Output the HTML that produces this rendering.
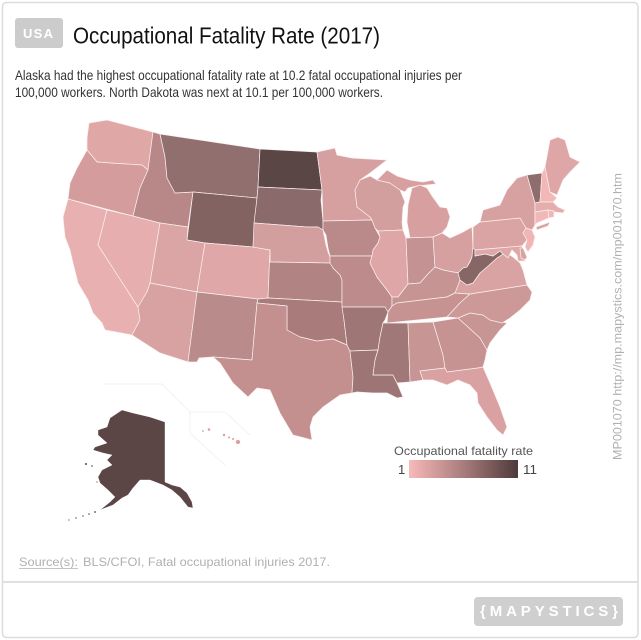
<!DOCTYPE html>
<html>
<head>
<meta charset="utf-8">
<style>
html,body{margin:0;padding:0;background:#fff;}
svg{display:block;}
text{font-family:"Liberation Sans",Arial,sans-serif;}
</style>
</head>
<body>
<svg width="641" height="640" viewBox="0 0 641 640" xmlns="http://www.w3.org/2000/svg">
<defs>
<linearGradient id="lg" x1="0" y1="0" x2="1" y2="0">
<stop offset="0" stop-color="#f8b9b9"/>
<stop offset="0.5" stop-color="#a97c7c"/>
<stop offset="1" stop-color="#4d3a3a"/>
</linearGradient>
</defs>
<rect x="0" y="0" width="641" height="640" fill="#fff"/>
<rect x="2.5" y="2.5" width="635.5" height="635" rx="4" fill="#fff" stroke="#dcdcdc" stroke-width="1.5"/>
<line x1="3" y1="582" x2="638" y2="582" stroke="#e0e0e0" stroke-width="2"/>

<!-- header -->
<rect x="15" y="18" width="48" height="30" rx="3" fill="#cccccc"/>
<text x="23" y="38" font-size="13" font-weight="bold" fill="#fff" textLength="30" lengthAdjust="spacing">USA</text>
<text x="73" y="43.5" font-size="23" fill="#111" textLength="307" lengthAdjust="spacingAndGlyphs">Occupational Fatality Rate (2017)</text>
<text x="15" y="80" font-size="14" fill="#333" textLength="447" lengthAdjust="spacingAndGlyphs">Alaska had the highest occupational fatality rate at 10.2 fatal occupational injuries per</text>
<text x="15" y="97" font-size="14" fill="#333" textLength="368" lengthAdjust="spacingAndGlyphs">100,000 workers. North Dakota was next at 10.1 per 100,000 workers.</text>

<!-- AK/HI frame lines -->
<g fill="none" stroke="#eeeeee" stroke-width="0.8">
<polyline points="103,384 162,384 190,412 225,412 250,435"/>
<polyline points="190,412 190,433 225,465"/>
</g>

<g stroke="#fbefef" stroke-width="0.7" stroke-linejoin="round">
<!-- WA -->
<polygon fill="#e0a7a7" points="89,123 107,120 153,132 148,170 142,165 110,163 97,162 87,150 87,138"/>
<!-- OR -->
<polygon fill="#d49c9c" points="87,150 97,162 110,163 142,165 148,170 140,188 133,216 68,199 70,183 77,168"/>
<!-- CA -->
<polygon fill="#e8b0b0" points="68,199 107,210 98,245 138,307 140,320 132,335 105,330 102,323 93,313 88,300 78,283 73,263 70,250 65,237 63,217"/>
<!-- NV -->
<polygon fill="#e6aeae" points="107,210 133,216 160,223 150,283 147,292 138,307 98,245"/>
<!-- ID -->
<polygon fill="#b88888" points="153,132 160,134 165,157 167,178 175,193 193,192 188,227 160,223 133,216 140,188 148,170"/>
<!-- MT -->
<polygon fill="#916f6f" points="160,134 260,149 258,187 257,198 193,192 175,193 167,178 165,157"/>
<!-- WY -->
<polygon fill="#836262" points="193,192 257,198 253,247 205,243 187,240"/>
<!-- UT -->
<polygon fill="#dca5a5" points="160,223 188,227 187,240 205,243 197,292 150,283"/>
<!-- CO -->
<polygon fill="#dfa7a7" points="205,243 253,247 270,250 268,298 258,299 197,292"/>
<!-- AZ -->
<polygon fill="#d9a2a2" points="150,283 197,292 188,362 160,353 132,335 140,320 138,307 147,292"/>
<!-- NM -->
<polygon fill="#ba8b8b" points="197,292 258,299 257,303 252,360 213,357 199,358 197,362 188,362"/>
<!-- ND -->
<polygon fill="#5b4646" points="260,149 317,152 322,190 258,187"/>
<!-- SD -->
<polygon fill="#8a6a6a" points="258,187 322,190 321,200 323,221 323,230 318,227 307,227 254,223 257,198"/>
<!-- NE -->
<polygon fill="#d39e9e" points="254,223 307,227 318,227 323,230 326,245 328,252 330,257 330,263 270,262 270,250 253,247"/>
<!-- KS -->
<polygon fill="#b18383" points="270,262 330,263 333,268 340,275 342,280 342,302 268,298 270,250"/>
<!-- OK -->
<polygon fill="#aa7b7b" points="258,299 268,298 342,302 344,320 347,345 333,339 317,341 300,337 287,330 287,306 257,303"/>
<!-- TX -->
<polygon fill="#c48f8f" points="257,303 287,306 287,330 300,337 317,341 333,339 347,345 350,351 353,377 352,393 340,395 323,407 313,417 310,427 312,440 293,435 280,413 270,390 257,388 248,397 233,383 220,363 213,357 252,360"/>
<!-- MN -->
<polygon fill="#d6a0a0" points="317,152 335,148 337,155 352,158 387,160 370,173 360,180 355,190 357,207 370,217 372,220 323,221 322,190"/>
<!-- IA -->
<polygon fill="#ba8a8a" points="323,221 372,220 375,228 380,237 378,243 373,250 372,256 330,256 328,248 326,235 323,230"/>
<!-- MO -->
<polygon fill="#bd8b8b" points="330,256 372,256 370,263 377,277 387,290 392,297 392,306 388,312 385,312 385,307 342,307 342,280 340,275 333,268 330,263"/>
<!-- AR -->
<polygon fill="#9f7676" points="342,307 385,307 388,312 385,320 383,323 380,337 378,350 350,351 347,345 344,320"/>
<!-- LA -->
<polygon fill="#9e7575" points="350,351 378,350 375,360 373,375 393,375 397,383 403,397 397,398 387,393 373,393 357,392 352,393 353,377"/>
<!-- WI -->
<polygon fill="#d39e9e" points="360,180 370,176 377,180 390,183 400,190 405,202 403,207 402,223 403,230 378,231 375,228 372,220 370,217 357,207 355,190"/>
<!-- MI UP -->
<polygon fill="#d79f9f" points="377,180 387,170 397,176 410,180 423,182 433,180 436,184 417,186 408,188 405,192 400,190 390,183"/>
<!-- MI LP -->
<polygon fill="#d79f9f" points="412,188 420,185 427,188 432,196 435,200 440,207 447,208 450,217 447,227 442,233 433,237 410,238 407,222 408,205"/>
<!-- IL -->
<polygon fill="#dea6a6" points="378,231 403,230 406,238 408,284 405,288 398,297 392,297 387,290 377,277 370,263 372,256 373,250 378,243 380,237"/>
<!-- IN -->
<polygon fill="#c49292" points="406,238 433,237 435,267 427,275 420,283 408,284"/>
<!-- OH -->
<polygon fill="#d6a0a0" points="433,237 442,233 450,238 463,232 472,227 473,248 472,257 467,267 460,273 453,272 443,270 435,267"/>
<!-- KY -->
<polygon fill="#c79494" points="435,267 443,270 453,272 460,273 460,280 463,283 455,293 447,297 397,303 392,306 392,297 398,297 405,288 408,284 420,283 427,275"/>
<!-- TN -->
<polygon fill="#c69292" points="397,303 447,297 455,293 470,294 460,303 447,317 387,323 388,312 392,306"/>
<!-- MS -->
<polygon fill="#a07878" points="383,323 408,323 410,382 397,383 393,375 373,375 375,360 378,350 380,337"/>
<!-- AL -->
<polygon fill="#c89595" points="408,323 433,322 443,355 445,368 420,371 423,380 417,381 410,382"/>
<!-- GA -->
<polygon fill="#c69292" points="433,322 458,318 468,327 480,338 487,350 485,360 483,367 478,368 447,372 445,368 443,355"/>
<!-- FL -->
<polygon fill="#d9a1a1" points="420,371 445,368 447,372 478,368 483,367 490,383 500,407 507,427 503,435 497,430 487,417 478,403 477,393 470,385 458,380 447,385 433,380 423,380"/>
<!-- SC -->
<polygon fill="#c89595" points="458,318 470,313 483,315 490,320 507,323 500,330 490,343 487,350 480,338 468,327"/>
<!-- NC -->
<polygon fill="#cc9898" points="470,294 527,285 532,292 530,300 520,310 510,318 502,323 490,320 483,315 470,313 458,318 447,317 460,303"/>
<!-- VA -->
<polygon fill="#d9a3a3" points="455,293 460,280 467,285 473,283 480,273 487,267 497,258 503,254 507,253 513,257 520,263 523,270 527,285 470,294"/>
<!-- WV -->
<polygon fill="#876666" points="473,246 475,246 475,256 485,254 493,256 500,251 503,254 497,258 487,267 480,273 473,283 467,285 460,280 458,273 463,268 467,267 470,262 472,257"/>
<!-- PA -->
<polygon fill="#dba4a4" points="473,227 480,222 520,218 526,228 523,233 527,240 522,246 475,250 473,248"/>
<!-- MD -->
<polygon fill="#dea8a8" points="475,250 522,246 523,250 527,257 525,261 518,261 517,255 512,250 508,258 503,254 500,251 493,256 485,254 475,256"/>
<!-- DE -->
<polygon fill="#d9a2a2" points="520,248 523,248 527,257 525,260 521,258"/>
<!-- NJ -->
<polygon fill="#f0b5b5" points="526,228 532,230 535,237 533,245 528,252 525,247 527,240 523,233"/>
<!-- NY -->
<polygon fill="#d8a1a1" points="480,222 483,210 500,205 507,190 517,178 527,175 535,203 535,212 535,225 532,230 526,228 520,218"/>
<polygon fill="#d8a1a1" points="536,227 550,222 548,226 537,230"/>
<!-- VT -->
<polygon fill="#8e6d6d" points="527,175 542,173 540,202 535,203"/>
<!-- NH -->
<polygon fill="#f3b7b7" points="542,173 545,167 550,192 557,198 553,202 540,202"/>
<!-- ME -->
<polygon fill="#dea6a6" points="545,167 550,140 558,137 565,140 570,157 580,162 570,172 563,180 557,195 550,192"/>
<!-- MA -->
<polygon fill="#e6adad" points="535,203 540,202 553,202 558,207 565,210 563,213 555,212 548,210 535,212"/>
<!-- CT -->
<polygon fill="#f2b8b8" points="535,212 548,210 549,218 537,223 535,225"/>
<!-- RI -->
<polygon fill="#f0b6b6" points="548,210 554,211 554,217 549,218"/>
</g>

<!-- Alaska -->
<polygon fill="#5c4545" stroke="#fff" stroke-width="0.4" points="122,410 133,413 150,417 165,422 165,482 172,485 180,487 187,493 192,502 193,508 188,507 180,497 172,490 163,485 150,480 140,480 133,488 128,495 122,498 113,505 100,510 110,502 115,497 108,490 100,483 98,477 102,470 112,465 107,460 112,455 103,453 93,450 95,447 107,443 98,435 98,430 107,427 110,418"/>
<g fill="#5c4545">
<circle cx="95" cy="512" r="0.9"/><circle cx="89" cy="514" r="0.8"/><circle cx="83" cy="516" r="0.7"/>
<circle cx="76" cy="518" r="0.7"/><circle cx="69" cy="520" r="0.6"/><circle cx="86" cy="464" r="1"/>
<circle cx="92" cy="466" r="0.8"/><circle cx="97" cy="482" r="0.6"/>
</g>
<!-- Hawaii -->
<g fill="#d99f9f">
<circle cx="203" cy="431" r="0.9"/><circle cx="209" cy="429.5" r="1.3"/>
<circle cx="224" cy="435" r="1.2"/><circle cx="229" cy="437.5" r="1"/>
<circle cx="233" cy="439" r="1"/><ellipse cx="238" cy="442" rx="2.2" ry="2"/>
</g>

<!-- legend -->
<text x="394" y="455" font-size="12" fill="#555" textLength="139" lengthAdjust="spacingAndGlyphs">Occupational fatality rate</text>
<rect x="409" y="460" width="109" height="18" fill="url(#lg)"/>
<text x="398" y="474" font-size="13" fill="#444">1</text>
<text x="523" y="474" font-size="13" fill="#444" textLength="14" lengthAdjust="spacingAndGlyphs">11</text>

<!-- vertical text -->
<text transform="translate(621.5,460) rotate(-90)" font-size="12" fill="#b0b0b0" textLength="287" lengthAdjust="spacingAndGlyphs">MP001070 http://mp.mapystics.com/mp001070.htm</text>

<!-- source -->
<text x="19" y="566" font-size="12" fill="#b0b0b0" textLength="59" lengthAdjust="spacingAndGlyphs">Source(s):</text>
<line x1="19" y1="568.5" x2="78" y2="568.5" stroke="#b0b0b0" stroke-width="0.8"/>
<text x="83" y="566" font-size="12" fill="#b0b0b0" textLength="247" lengthAdjust="spacingAndGlyphs">BLS/CFOI, Fatal occupational injuries 2017.</text>

<!-- logo -->
<rect x="474" y="597" width="149" height="29" rx="4" fill="#cfcfcf"/>
<text x="480" y="616" font-size="15" font-weight="bold" fill="#fff" textLength="138" lengthAdjust="spacing">{MAPYSTICS}</text>
</svg>
</body>
</html>
